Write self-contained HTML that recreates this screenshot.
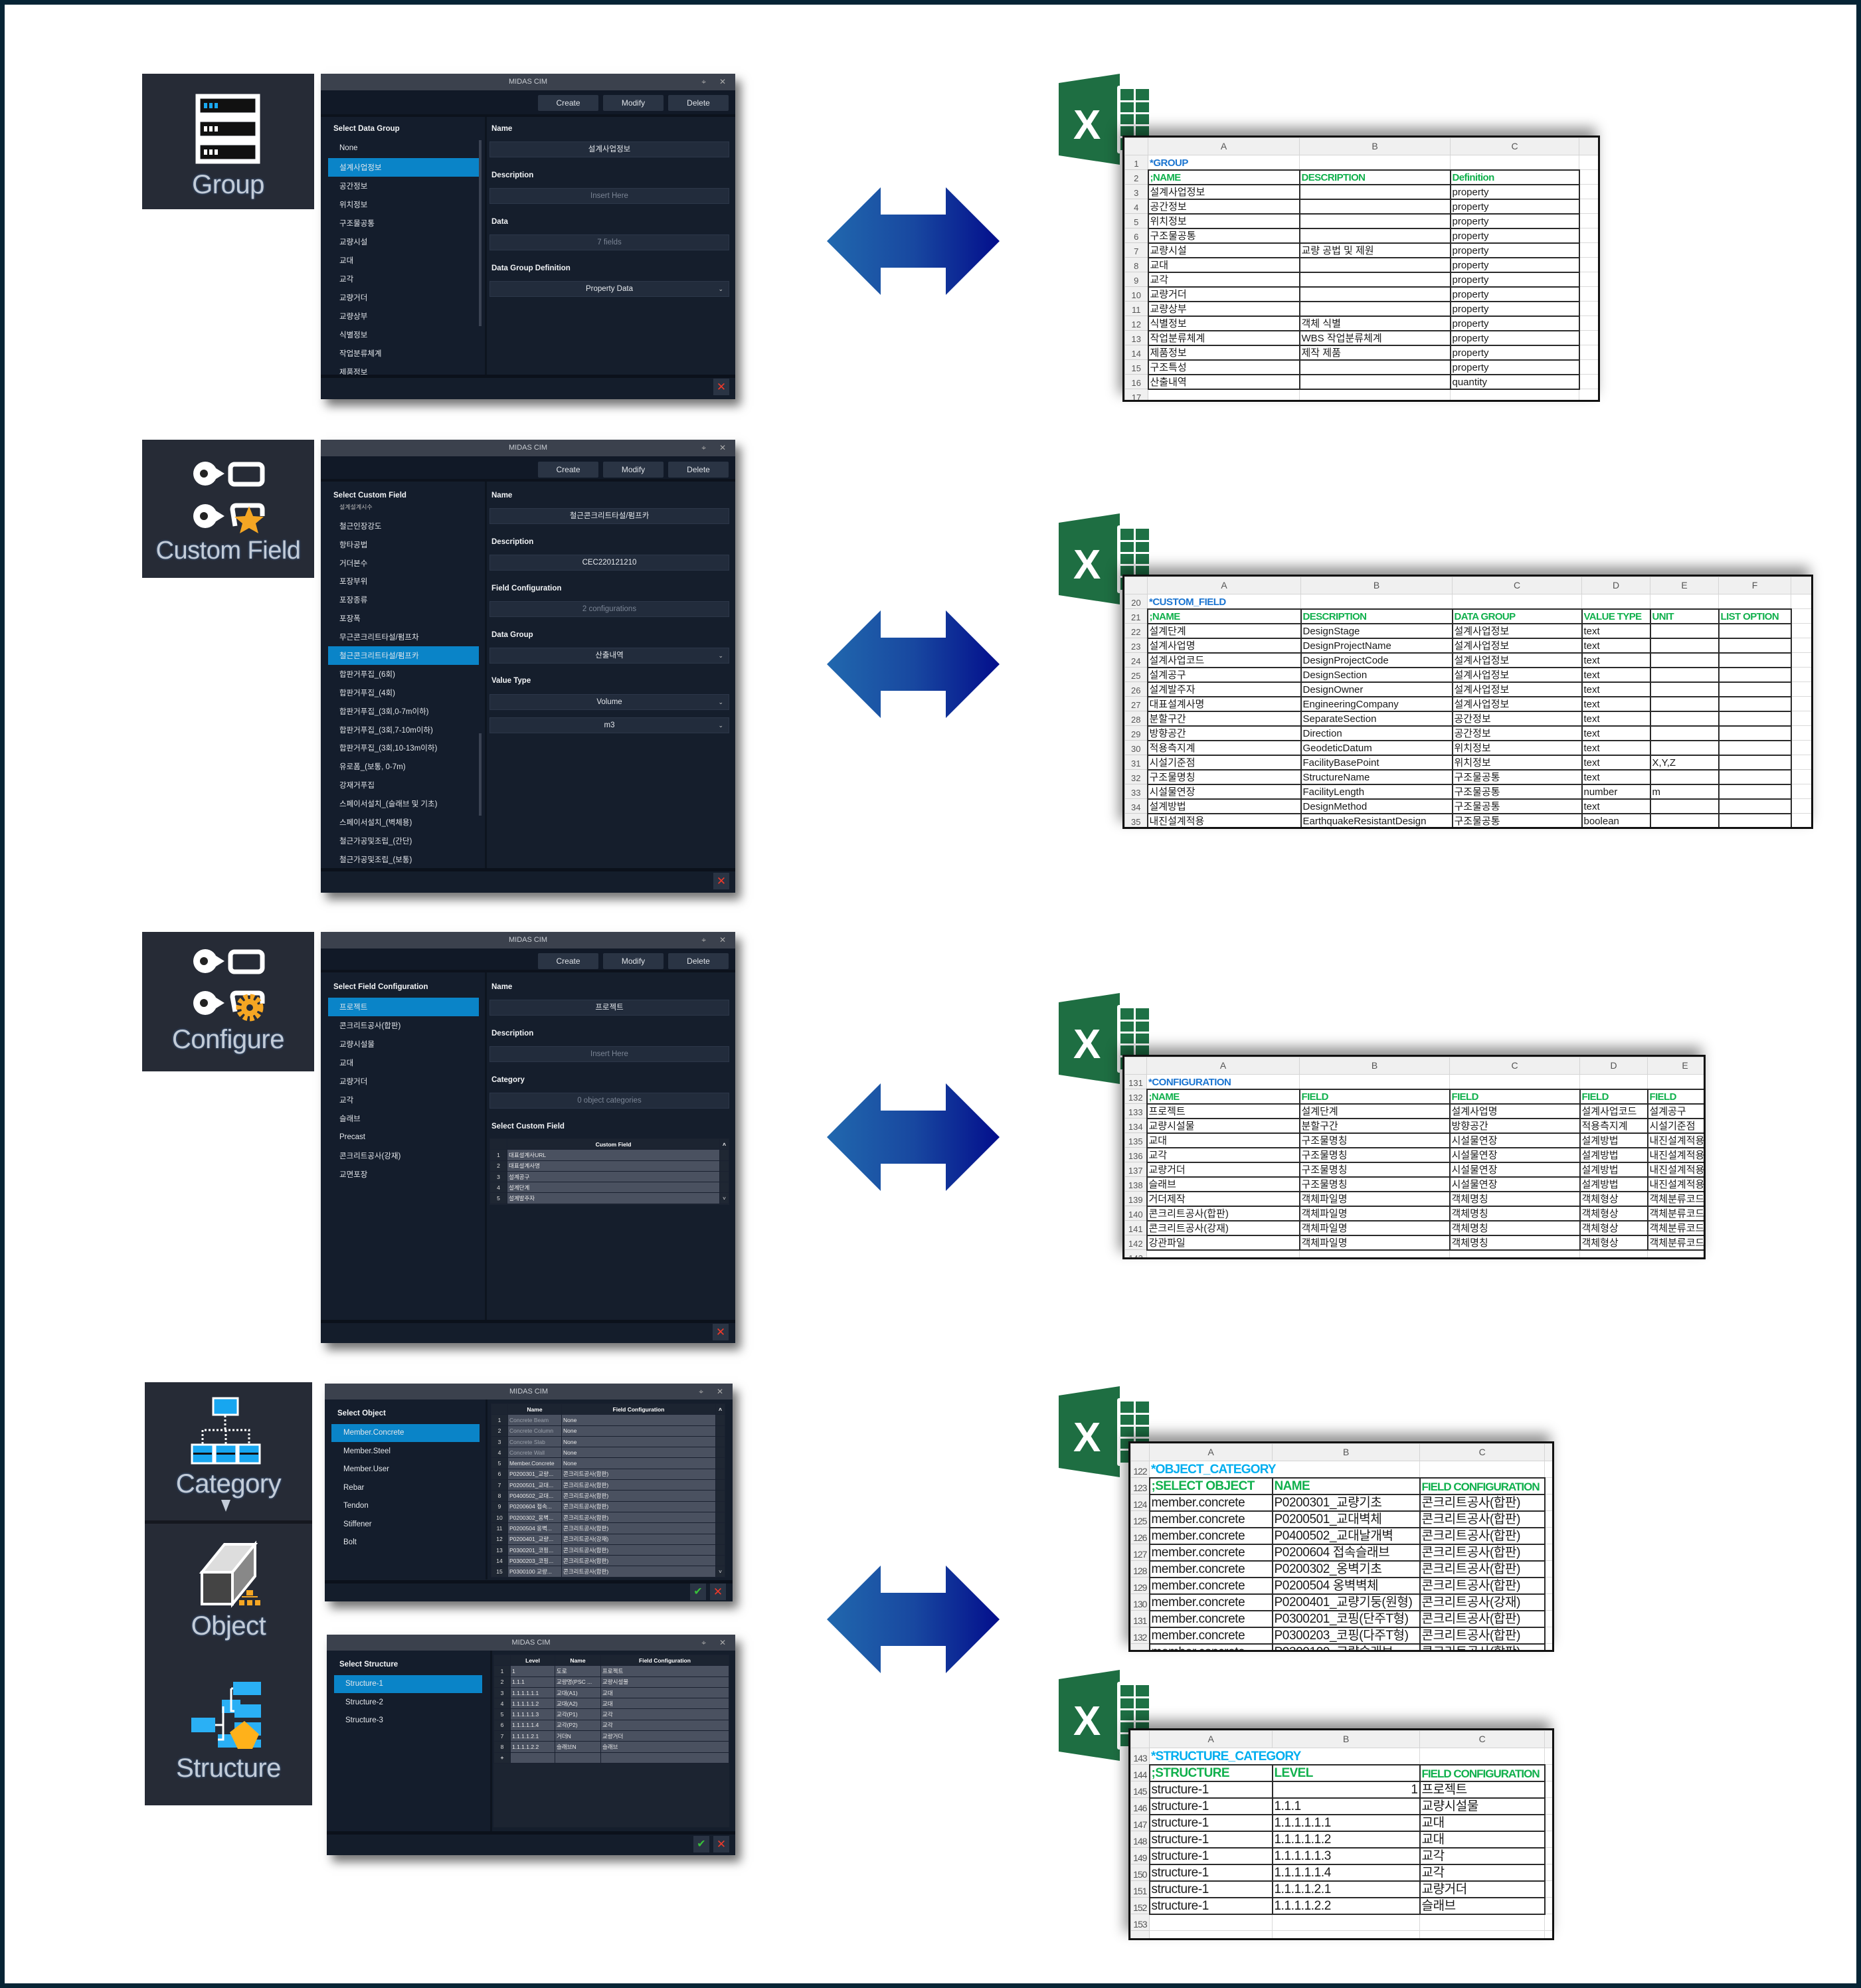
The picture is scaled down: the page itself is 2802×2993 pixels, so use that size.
<!DOCTYPE html>
<html><head><meta charset="utf-8">
<style>
*{box-sizing:border-box;margin:0;padding:0}
body{width:2802px;height:2993px;background:#fff;position:relative;overflow:hidden;font-family:"Liberation Sans","Noto Sans CJK KR",sans-serif}
#frame{position:absolute;left:0;top:0;width:2802px;height:2993px;border:7px solid #062435}
.ab{position:absolute}
.ip{position:absolute;background:#262b36}
.ip .lb{position:absolute;left:0;right:0;text-align:center;font-size:40px;color:#c3ccd8;text-shadow:0 0 3px #4a6fa0;letter-spacing:-0.5px;font-weight:500}
.dlg{position:absolute;background:#151e2c;box-shadow:8px 10px 14px rgba(0,0,0,.55);color:#e8ebef;overflow:hidden}
.dlg .tb{position:absolute;left:0;right:0;top:0;height:25px;background:#3b414d;color:#c9cdd3;font-size:11px;text-align:center;line-height:25px}
.dlg .tb i{position:absolute;font-style:normal;top:0;font-size:12px;color:#aaa}
.dlg .tool{position:absolute;left:0;right:0;top:25px;background:#111927;border-bottom:4px solid #0c121c}
.btn{position:absolute;background:#2a3444;color:#dfe3e8;font-size:12px;text-align:center;line-height:24px;height:24px;border-radius:2px}
.lp{position:absolute;left:0;background:#141d2c;border-right:3px solid #0d141f}
.lbl{position:absolute;font-size:11.5px;font-weight:bold;color:#f2f4f6;transform:translateY(-50%)}
.it{position:absolute;font-size:11.5px;color:#e4e7eb;transform:translateY(-50%);white-space:nowrap}
.sel{position:absolute;background:#0a84c8}
.inp{position:absolute;height:24px;background:#222c3c;border:1px solid #2c3749;color:#e6e9ed;font-size:11.5px;text-align:center;line-height:22px}
.inp.ph{color:#7a8494}
.inp .dd{position:absolute;right:8px;top:0;font-size:9px;color:#ccc}
.bot{position:absolute;left:0;right:0;bottom:0;background:#141d2b;border-top:5px solid #0b111b}
.xb{position:absolute;width:24px;height:25px;background:#2a3444;color:#f03a2a;font-size:17px;text-align:center;line-height:25px}
.ck{position:absolute;width:24px;height:25px;background:#2a3444;color:#38c03a;font-size:16px;text-align:center;line-height:25px}
.grid{position:absolute;background:#1c2431;font-size:8.5px;overflow:hidden}
.grid table{border-collapse:collapse;table-layout:fixed;width:100%}
.grid td{height:16.3px;border:1px solid #1a2130;white-space:nowrap;overflow:hidden;padding:0 2px;color:#e8e8e8;background:#4a5160}
.grid td.n{background:#1f2733;text-align:center;color:#ddd}
.grid tr.h td{background:#1c2431;font-weight:bold;text-align:center;color:#fff}
.grid td.dim{color:#9aa0aa}
.sh{position:absolute;background:#fff;border:3px solid #111;box-shadow:-6px -12px 18px rgba(0,0,0,.42);overflow:hidden}
.sh table{border-collapse:collapse;table-layout:fixed}
.sh td{padding:0 2px;white-space:nowrap;overflow:hidden;border:1px solid #d9d9d9;font-size:15px;color:#1a1a1a;line-height:1;vertical-align:bottom;padding-bottom:2px}
.sh td.n{background:#f0f0f0;color:#555;text-align:center;font-size:13px;border-color:#cfcfcf}
.sh tr.h td{background:#f0f0f0;color:#555;text-align:center;font-size:14px;vertical-align:middle;border-color:#d4d4d4}
.sh td.k{border:2px solid #2a2a2a}
.sh .t{color:#1a74d0;font-weight:bold;letter-spacing:-0.5px}
.sh .c{color:#00aeef;font-weight:bold;letter-spacing:-0.8px}
.sh .g{color:#10b04c;font-weight:bold;letter-spacing:-0.6px}
.big td{font-size:19px;letter-spacing:-0.4px}
.big td.n{font-size:14px;letter-spacing:-1px}
.big td.fc{font-size:17px;letter-spacing:-1px}
</style></head><body>
<div id="frame"></div>

<svg class="ab" style="left:0;top:0" width="2802" height="2993">
<defs><linearGradient id="ag" x1="0" x2="1" y1="0" y2="0"><stop offset="0" stop-color="#2168ae"/><stop offset="0.5" stop-color="#1848a0"/><stop offset="1" stop-color="#030e8c"/></linearGradient></defs>
<g fill="url(#ag)">
<polygon points="1245,363 1326,282 1326,323 1424,323 1424,282 1505,363 1424,444 1424,403 1326,403 1326,444"/>
<polygon points="1245,1000 1326,919 1326,960 1424,960 1424,919 1505,1000 1424,1081 1424,1040 1326,1040 1326,1081"/>
<polygon points="1245,1712 1326,1631 1326,1672 1424,1672 1424,1631 1505,1712 1424,1793 1424,1752 1326,1752 1326,1793"/>
<polygon points="1245,2438 1326,2357 1326,2398 1424,2398 1424,2357 1505,2438 1424,2519 1424,2478 1326,2478 1326,2519"/>
</g>
<g id="xl1" transform="translate(1594,111)">
<polygon points="0,14 92,0 92,137 0,123" fill="#1e6e42"/>
<rect x="88" y="18" width="53" height="102" rx="3" fill="#fff"/>
<rect x="93" y="23" width="43" height="92" fill="#1e7145"/>
<g fill="#fff"><rect x="93" y="40" width="43" height="3"/><rect x="93" y="58" width="43" height="3"/><rect x="93" y="76" width="43" height="3"/><rect x="93" y="94" width="43" height="3"/><rect x="113" y="23" width="3" height="92"/></g>
<text x="22" y="98" font-family="Liberation Sans" font-weight="bold" font-size="62" fill="#fff">X</text>
</g>
<use href="#xl1" transform="translate(0,662)"/>
<use href="#xl1" transform="translate(0,1384)"/>
<use href="#xl1" transform="translate(0,1976)"/>
<use href="#xl1" transform="translate(0,2403)"/>
</svg>

<!-- ============ SECTION 1 ============ -->
<div class="ip" style="left:214px;top:111px;width:259px;height:204px">
<svg class="ab" style="left:0;top:0" width="259" height="204">
<g fill="none" stroke="#fff" stroke-width="7"><rect x="84" y="34" width="90" height="28"/><rect x="84" y="69" width="90" height="28"/><rect x="84" y="104" width="90" height="28"/></g>
<g fill="#111"><rect x="88" y="38" width="82" height="20"/><rect x="88" y="73" width="82" height="20"/><rect x="88" y="108" width="82" height="20"/></g>
<g fill="#19a8f0"><rect x="93" y="44" width="5" height="8"/><rect x="101" y="44" width="5" height="8"/><rect x="109" y="44" width="5" height="8"/></g>
<g fill="#fff"><rect x="93" y="79" width="5" height="8"/><rect x="101" y="79" width="5" height="8"/><rect x="109" y="79" width="5" height="8"/><rect x="93" y="114" width="5" height="8"/><rect x="101" y="114" width="5" height="8"/><rect x="109" y="114" width="5" height="8"/></g>
</svg>
<div class="lb" style="top:145px">Group</div>
</div>

<div class="dlg" style="left:483px;top:111px;width:624px;height:490px">
<div class="tb">MIDAS CIM<i style="right:44px">⌖</i><i style="right:14px">✕</i></div>
<div class="tool" style="height:40px"></div>
<div class="btn" style="left:327px;top:32px;width:91px">Create</div>
<div class="btn" style="left:425px;top:32px;width:91px">Modify</div>
<div class="btn" style="left:523px;top:32px;width:91px">Delete</div>
<div class="lp" style="top:65px;width:250px;height:388px"></div>
<div class="ab" style="left:238px;top:100px;width:4px;height:280px;background:#3a4252"></div>
<div class="lbl" style="left:19px;top:83px">Select Data Group</div>
<div class="sel" style="left:11px;top:127px;width:227px;height:28px"></div>
<div class="it" style="left:28px;top:112px">None</div>
<div class="it" style="left:28px;top:141px">설계사업정보</div>
<div class="it" style="left:28px;top:169px">공간정보</div>
<div class="it" style="left:28px;top:197px">위치정보</div>
<div class="it" style="left:28px;top:225px">구조물공통</div>
<div class="it" style="left:28px;top:253px">교량시설</div>
<div class="it" style="left:28px;top:281px">교대</div>
<div class="it" style="left:28px;top:309px">교각</div>
<div class="it" style="left:28px;top:337px">교량거더</div>
<div class="it" style="left:28px;top:365px">교량상부</div>
<div class="it" style="left:28px;top:393px">식별정보</div>
<div class="it" style="left:28px;top:421px">작업분류체계</div>
<div class="it" style="left:28px;top:449px">제품정보</div>
<div class="lbl" style="left:257px;top:83px">Name</div>
<div class="inp" style="left:254px;top:102px;width:361px">설계사업정보</div>
<div class="lbl" style="left:257px;top:153px">Description</div>
<div class="inp ph" style="left:254px;top:172px;width:361px">Insert Here</div>
<div class="lbl" style="left:257px;top:223px">Data</div>
<div class="inp ph" style="left:254px;top:242px;width:361px">7 fields</div>
<div class="lbl" style="left:257px;top:293px">Data Group Definition</div>
<div class="inp" style="left:254px;top:312px;width:361px">Property Data<span class="dd">⌄</span></div>
<div class="bot" style="height:37px"></div>
<div class="xb" style="left:591px;top:459px">✕</div>
</div>

<div class="sh" style="left:1690px;top:204px;width:719px;height:401px">
<table style="width:713px">
<colgroup><col style="width:35px"><col style="width:228px"><col style="width:227px"><col style="width:194px"><col style="width:29px"></colgroup>
<tr class="h" style="height:26px"><td></td><td>A</td><td>B</td><td>C</td><td></td></tr>
<tr style="height:22px"><td class="n">1</td><td class="t">*GROUP</td><td></td><td></td><td></td></tr>
<tr style="height:22px"><td class="n">2</td><td class="k g">;NAME</td><td class="k g">DESCRIPTION</td><td class="k g">Definition</td><td></td></tr>
<tr style="height:22px"><td class="n">3</td><td class="k">설계사업정보</td><td class="k"></td><td class="k">property</td><td></td></tr>
<tr style="height:22px"><td class="n">4</td><td class="k">공간정보</td><td class="k"></td><td class="k">property</td><td></td></tr>
<tr style="height:22px"><td class="n">5</td><td class="k">위치정보</td><td class="k"></td><td class="k">property</td><td></td></tr>
<tr style="height:22px"><td class="n">6</td><td class="k">구조물공통</td><td class="k"></td><td class="k">property</td><td></td></tr>
<tr style="height:22px"><td class="n">7</td><td class="k">교량시설</td><td class="k">교량 공법 및 제원</td><td class="k">property</td><td></td></tr>
<tr style="height:22px"><td class="n">8</td><td class="k">교대</td><td class="k"></td><td class="k">property</td><td></td></tr>
<tr style="height:22px"><td class="n">9</td><td class="k">교각</td><td class="k"></td><td class="k">property</td><td></td></tr>
<tr style="height:22px"><td class="n">10</td><td class="k">교량거더</td><td class="k"></td><td class="k">property</td><td></td></tr>
<tr style="height:22px"><td class="n">11</td><td class="k">교량상부</td><td class="k"></td><td class="k">property</td><td></td></tr>
<tr style="height:22px"><td class="n">12</td><td class="k">식별정보</td><td class="k">객체 식별</td><td class="k">property</td><td></td></tr>
<tr style="height:22px"><td class="n">13</td><td class="k">작업분류체계</td><td class="k">WBS 작업분류체계</td><td class="k">property</td><td></td></tr>
<tr style="height:22px"><td class="n">14</td><td class="k">제품정보</td><td class="k">제작 제품</td><td class="k">property</td><td></td></tr>
<tr style="height:22px"><td class="n">15</td><td class="k">구조특성</td><td class="k"></td><td class="k">property</td><td></td></tr>
<tr style="height:22px"><td class="n">16</td><td class="k">산출내역</td><td class="k"></td><td class="k">quantity</td><td></td></tr>
<tr style="height:22px"><td class="n">17</td><td></td><td></td><td></td><td></td></tr>
</table></div>

<!-- ============ SECTION 2 ============ -->
<div class="ip" style="left:214px;top:662px;width:259px;height:208px">
<svg class="ab" style="left:0;top:0" width="259" height="208">
<g fill="#fff"><circle cx="95" cy="51" r="18"/><polygon points="95,33 124,51 95,69"/><circle cx="95" cy="115" r="18"/><polygon points="95,97 124,115 95,133"/></g>
<g fill="#222"><circle cx="93" cy="51" r="6"/><circle cx="93" cy="115" r="6"/></g>
<g fill="none" stroke="#fff" stroke-width="7"><rect x="133" y="37" width="48" height="30" rx="6"/><path d="M140 130 L136 105 Q136 99 142 99 L175 99 Q181 99 181 105 L181 115"/></g>
<polygon fill="#f5a623" points="161,100 167,115 183,116 171,126 175,141 161,133 147,141 151,126 139,116 155,115"/>
</svg>
<div class="lb" style="top:146px;font-size:38px">Custom Field</div>
</div>

<div class="dlg" style="left:483px;top:662px;width:624px;height:682px">
<div class="tb">MIDAS CIM<i style="right:44px">⌖</i><i style="right:14px">✕</i></div>
<div class="tool" style="height:38px"></div>
<div class="btn" style="left:327px;top:33px;width:91px">Create</div>
<div class="btn" style="left:425px;top:33px;width:91px">Modify</div>
<div class="btn" style="left:523px;top:33px;width:91px">Delete</div>
<div class="lp" style="top:63px;width:250px;height:582px"></div>
<div class="ab" style="left:238px;top:442px;width:4px;height:124px;background:#3a4252"></div>
<div class="lbl" style="left:19px;top:84px">Select Custom Field</div>
<div class="it" style="left:28px;top:101px;font-size:9px;color:#bbb">설계설계시수</div>
<div class="sel" style="left:11px;top:311px;width:227px;height:28px"></div>
<div class="it" style="left:28px;top:130px">철근인장강도</div>
<div class="it" style="left:28px;top:158px">항타공법</div>
<div class="it" style="left:28px;top:186px">거더본수</div>
<div class="it" style="left:28px;top:213px">포장부위</div>
<div class="it" style="left:28px;top:241px">포장종류</div>
<div class="it" style="left:28px;top:269px">포장폭</div>
<div class="it" style="left:28px;top:297px">무근콘크리트타설/펌프차</div>
<div class="it" style="left:28px;top:325px">철근콘크리트타설/펌프카</div>
<div class="it" style="left:28px;top:353px">합판거푸집_(6회)</div>
<div class="it" style="left:28px;top:381px">합판거푸집_(4회)</div>
<div class="it" style="left:28px;top:409px">합판거푸집_(3회,0-7m이하)</div>
<div class="it" style="left:28px;top:437px">합판거푸집_(3회,7-10m이하)</div>
<div class="it" style="left:28px;top:464px">합판거푸집_(3회,10-13m이하)</div>
<div class="it" style="left:28px;top:492px">유로폼_(보통, 0-7m)</div>
<div class="it" style="left:28px;top:520px">강재거푸집</div>
<div class="it" style="left:28px;top:548px">스페이서설치_(슬래브 및 기초)</div>
<div class="it" style="left:28px;top:576px">스페이서설치_(벽체용)</div>
<div class="it" style="left:28px;top:604px">철근가공및조립_(간단)</div>
<div class="it" style="left:28px;top:632px">철근가공및조립_(보통)</div>
<div class="lbl" style="left:257px;top:84px">Name</div>
<div class="inp" style="left:254px;top:103px;width:361px">철근콘크리트타설/펌프카</div>
<div class="lbl" style="left:257px;top:154px">Description</div>
<div class="inp" style="left:254px;top:173px;width:361px">CEC220121210</div>
<div class="lbl" style="left:257px;top:224px">Field Configuration</div>
<div class="inp ph" style="left:254px;top:243px;width:361px">2 configurations</div>
<div class="lbl" style="left:257px;top:294px">Data Group</div>
<div class="inp" style="left:254px;top:313px;width:361px">산출내역<span class="dd">⌄</span></div>
<div class="lbl" style="left:257px;top:363px">Value Type</div>
<div class="inp" style="left:254px;top:383px;width:361px">Volume<span class="dd">⌄</span></div>
<div class="inp" style="left:254px;top:418px;width:361px">m3<span class="dd">⌄</span></div>
<div class="bot" style="height:37px"></div>
<div class="xb" style="left:591px;top:652px">✕</div>
</div>

<div class="sh" style="left:1690px;top:865px;width:1040px;height:383px">
<table style="width:1034px">
<colgroup><col style="width:34px"><col style="width:231px"><col style="width:228px"><col style="width:195px"><col style="width:103px"><col style="width:103px"><col style="width:109px"><col style="width:31px"></colgroup>
<tr class="h" style="height:26px"><td></td><td>A</td><td>B</td><td>C</td><td>D</td><td>E</td><td>F</td><td></td></tr>
<tr style="height:22px"><td class="n">20</td><td class="t">*CUSTOM_FIELD</td><td></td><td></td><td></td><td></td><td></td><td></td></tr>
<tr style="height:22px"><td class="n">21</td><td class="k g">;NAME</td><td class="k g">DESCRIPTION</td><td class="k g">DATA GROUP</td><td class="k g">VALUE TYPE</td><td class="k g">UNIT</td><td class="k g">LIST OPTION</td><td></td></tr>
<tr style="height:22px"><td class="n">22</td><td class="k">설계단계</td><td class="k">DesignStage</td><td class="k">설계사업정보</td><td class="k">text</td><td class="k"></td><td class="k"></td><td></td></tr>
<tr style="height:22px"><td class="n">23</td><td class="k">설계사업명</td><td class="k">DesignProjectName</td><td class="k">설계사업정보</td><td class="k">text</td><td class="k"></td><td class="k"></td><td></td></tr>
<tr style="height:22px"><td class="n">24</td><td class="k">설계사업코드</td><td class="k">DesignProjectCode</td><td class="k">설계사업정보</td><td class="k">text</td><td class="k"></td><td class="k"></td><td></td></tr>
<tr style="height:22px"><td class="n">25</td><td class="k">설계공구</td><td class="k">DesignSection</td><td class="k">설계사업정보</td><td class="k">text</td><td class="k"></td><td class="k"></td><td></td></tr>
<tr style="height:22px"><td class="n">26</td><td class="k">설계발주자</td><td class="k">DesignOwner</td><td class="k">설계사업정보</td><td class="k">text</td><td class="k"></td><td class="k"></td><td></td></tr>
<tr style="height:22px"><td class="n">27</td><td class="k">대표설계사명</td><td class="k">EngineeringCompany</td><td class="k">설계사업정보</td><td class="k">text</td><td class="k"></td><td class="k"></td><td></td></tr>
<tr style="height:22px"><td class="n">28</td><td class="k">분할구간</td><td class="k">SeparateSection</td><td class="k">공간정보</td><td class="k">text</td><td class="k"></td><td class="k"></td><td></td></tr>
<tr style="height:22px"><td class="n">29</td><td class="k">방향공간</td><td class="k">Direction</td><td class="k">공간정보</td><td class="k">text</td><td class="k"></td><td class="k"></td><td></td></tr>
<tr style="height:22px"><td class="n">30</td><td class="k">적용측지계</td><td class="k">GeodeticDatum</td><td class="k">위치정보</td><td class="k">text</td><td class="k"></td><td class="k"></td><td></td></tr>
<tr style="height:22px"><td class="n">31</td><td class="k">시설기준점</td><td class="k">FacilityBasePoint</td><td class="k">위치정보</td><td class="k">text</td><td class="k">X,Y,Z</td><td class="k"></td><td></td></tr>
<tr style="height:22px"><td class="n">32</td><td class="k">구조물명칭</td><td class="k">StructureName</td><td class="k">구조물공통</td><td class="k">text</td><td class="k"></td><td class="k"></td><td></td></tr>
<tr style="height:22px"><td class="n">33</td><td class="k">시설물연장</td><td class="k">FacilityLength</td><td class="k">구조물공통</td><td class="k">number</td><td class="k">m</td><td class="k"></td><td></td></tr>
<tr style="height:22px"><td class="n">34</td><td class="k">설계방법</td><td class="k">DesignMethod</td><td class="k">구조물공통</td><td class="k">text</td><td class="k"></td><td class="k"></td><td></td></tr>
<tr style="height:22px"><td class="n">35</td><td class="k">내진설계적용</td><td class="k">EarthquakeResistantDesign</td><td class="k">구조물공통</td><td class="k">boolean</td><td class="k"></td><td class="k"></td><td></td></tr>
</table></div>

<!-- ============ SECTION 3 ============ -->
<div class="ip" style="left:214px;top:1403px;width:259px;height:210px">
<svg class="ab" style="left:0;top:0" width="259" height="210">
<g fill="#fff"><circle cx="95" cy="44" r="18"/><polygon points="95,26 124,44 95,62"/><circle cx="95" cy="107" r="18"/><polygon points="95,89 124,107 95,125"/></g>
<g fill="#222"><circle cx="93" cy="44" r="6"/><circle cx="93" cy="107" r="6"/></g>
<g fill="none" stroke="#fff" stroke-width="7"><rect x="133" y="30" width="48" height="30" rx="6"/><path d="M140 120 L136 98 Q136 92 142 92 L175 92 Q181 92 181 98 L181 108"/></g>
<circle cx="162" cy="114" r="16" fill="none" stroke="#f5a623" stroke-width="9" stroke-dasharray="6 3.5"/>
<circle cx="162" cy="114" r="13" fill="#f5a623"/><circle cx="162" cy="114" r="5" fill="#262b36"/>
</svg>
<div class="lb" style="top:140px">Configure</div>
</div>

<div class="dlg" style="left:483px;top:1403px;width:624px;height:619px">
<div class="tb">MIDAS CIM<i style="right:44px">⌖</i><i style="right:14px">✕</i></div>
<div class="tool" style="height:36px"></div>
<div class="btn" style="left:327px;top:32px;width:91px">Create</div>
<div class="btn" style="left:425px;top:32px;width:91px">Modify</div>
<div class="btn" style="left:523px;top:32px;width:91px">Delete</div>
<div class="lp" style="top:61px;width:250px;height:523px"></div>
<div class="lbl" style="left:19px;top:83px">Select Field Configuration</div>
<div class="sel" style="left:11px;top:99px;width:227px;height:28px"></div>
<div class="it" style="left:28px;top:113px">프로젝트</div>
<div class="it" style="left:28px;top:141px">콘크리트공사(합판)</div>
<div class="it" style="left:28px;top:169px">교량시설물</div>
<div class="it" style="left:28px;top:197px">교대</div>
<div class="it" style="left:28px;top:225px">교량거더</div>
<div class="it" style="left:28px;top:253px">교각</div>
<div class="it" style="left:28px;top:281px">슬래브</div>
<div class="it" style="left:28px;top:309px">Precast</div>
<div class="it" style="left:28px;top:337px">콘크리트공사(강재)</div>
<div class="it" style="left:28px;top:365px">교면포장</div>
<div class="lbl" style="left:257px;top:83px">Name</div>
<div class="inp" style="left:254px;top:102px;width:361px">프로젝트</div>
<div class="lbl" style="left:257px;top:153px">Description</div>
<div class="inp ph" style="left:254px;top:172px;width:361px">Insert Here</div>
<div class="lbl" style="left:257px;top:223px">Category</div>
<div class="inp ph" style="left:254px;top:242px;width:361px">0 object categories</div>
<div class="lbl" style="left:257px;top:293px">Select Custom Field</div>
<div class="grid" style="left:254px;top:311px;width:361px;height:100px">
<table><colgroup><col style="width:26px"><col><col style="width:14px"></colgroup>
<tr class="h"><td></td><td>Custom Field</td><td>˄</td></tr>
<tr><td class="n">1</td><td>대표설계사URL</td><td class="n"></td></tr>
<tr><td class="n">2</td><td>대표설계사명</td><td class="n"></td></tr>
<tr><td class="n">3</td><td>설계공구</td><td class="n"></td></tr>
<tr><td class="n">4</td><td>설계단계</td><td class="n"></td></tr>
<tr><td class="n">5</td><td>설계발주자</td><td class="n">˅</td></tr>
</table></div>
<div class="bot" style="height:35px"></div>
<div class="xb" style="left:590px;top:590px">✕</div>
</div>

<div class="sh" style="left:1690px;top:1588px;width:878px;height:308px">
<table style="width:900px">
<colgroup><col style="width:33px"><col style="width:230px"><col style="width:226px"><col style="width:196px"><col style="width:102px"><col style="width:113px"></colgroup>
<tr class="h" style="height:26px"><td></td><td>A</td><td>B</td><td>C</td><td>D</td><td>E</td></tr>
<tr style="height:22px"><td class="n">131</td><td class="t">*CONFIGURATION</td><td></td><td></td><td></td><td></td></tr>
<tr style="height:22px"><td class="n">132</td><td class="k g">;NAME</td><td class="k g">FIELD</td><td class="k g">FIELD</td><td class="k g">FIELD</td><td class="k g">FIELD</td></tr>
<tr style="height:22px"><td class="n">133</td><td class="k">프로젝트</td><td class="k">설계단계</td><td class="k">설계사업명</td><td class="k">설계사업코드</td><td class="k">설계공구</td></tr>
<tr style="height:22px"><td class="n">134</td><td class="k">교량시설물</td><td class="k">분할구간</td><td class="k">방향공간</td><td class="k">적용측지계</td><td class="k">시설기준점</td></tr>
<tr style="height:22px"><td class="n">135</td><td class="k">교대</td><td class="k">구조물명칭</td><td class="k">시설물연장</td><td class="k">설계방법</td><td class="k">내진설계적용</td></tr>
<tr style="height:22px"><td class="n">136</td><td class="k">교각</td><td class="k">구조물명칭</td><td class="k">시설물연장</td><td class="k">설계방법</td><td class="k">내진설계적용</td></tr>
<tr style="height:22px"><td class="n">137</td><td class="k">교량거더</td><td class="k">구조물명칭</td><td class="k">시설물연장</td><td class="k">설계방법</td><td class="k">내진설계적용</td></tr>
<tr style="height:22px"><td class="n">138</td><td class="k">슬래브</td><td class="k">구조물명칭</td><td class="k">시설물연장</td><td class="k">설계방법</td><td class="k">내진설계적용</td></tr>
<tr style="height:22px"><td class="n">139</td><td class="k">거더제작</td><td class="k">객체파일명</td><td class="k">객체명칭</td><td class="k">객체형상</td><td class="k">객체분류코드</td></tr>
<tr style="height:22px"><td class="n">140</td><td class="k">콘크리트공사(합판)</td><td class="k">객체파일명</td><td class="k">객체명칭</td><td class="k">객체형상</td><td class="k">객체분류코드</td></tr>
<tr style="height:22px"><td class="n">141</td><td class="k">콘크리트공사(강재)</td><td class="k">객체파일명</td><td class="k">객체명칭</td><td class="k">객체형상</td><td class="k">객체분류코드</td></tr>
<tr style="height:22px"><td class="n">142</td><td class="k">강관파일</td><td class="k">객체파일명</td><td class="k">객체명칭</td><td class="k">객체형상</td><td class="k">객체분류코드</td></tr>
<tr style="height:22px"><td class="n">143</td><td></td><td></td><td></td><td></td><td></td></tr>
</table></div>

<!-- ============ SECTION 4 ============ -->
<div class="ip" style="left:218px;top:2081px;width:252px;height:637px">
<div class="ab" style="left:0;top:208px;width:252px;height:5px;background:#15181f"></div>
<svg class="ab" style="left:0;top:0" width="252" height="637">
<rect x="103" y="24" width="37" height="25" fill="#17a6f0" stroke="#fff" stroke-width="3"/>
<g stroke="#fff" stroke-width="3" stroke-dasharray="3 3" fill="none"><path d="M121 50 V72 M87 93 V72 H157 V93 M122 72 V93"/></g>
<g fill="#17a6f0" stroke="#fff" stroke-width="3"><rect x="71" y="94" width="32" height="28"/><rect x="106" y="94" width="32" height="28"/><rect x="141" y="94" width="32" height="28"/></g>
<g fill="#111"><rect x="73" y="106" width="28" height="3"/><rect x="108" y="106" width="28" height="3"/><rect x="143" y="106" width="28" height="3"/></g>
<polygon points="115,177 129,177 122,195" fill="#c3ccd8"/>
<polygon points="86,286 120,244 166,244 132,286" fill="#ddd" stroke="#fff" stroke-width="4"/>
<polygon points="132,286 166,244 166,292 132,334" fill="#888" stroke="#fff" stroke-width="4"/>
<rect x="86" y="286" width="46" height="48" fill="#444" stroke="#fff" stroke-width="4"/>
<g fill="#f5a623"><rect x="153" y="313" width="10" height="8"/><rect x="142" y="328" width="8" height="8"/><rect x="154" y="328" width="8" height="8"/><rect x="166" y="328" width="8" height="8"/><rect x="146" y="322" width="24" height="2"/></g>
<g fill="#2ab0f5"><rect x="133" y="451" width="42" height="20"/><rect x="116" y="478" width="28" height="20"/><rect x="135" y="485" width="40" height="20"/><rect x="70" y="505" width="36" height="22"/><rect x="135" y="512" width="40" height="20"/><rect x="110" y="530" width="40" height="20"/><rect x="135" y="538" width="40" height="12"/></g>
<g stroke="#fff" stroke-width="3" fill="none"><path d="M106 516 H118 V488 M118 516 V538 H110 M130 461 H133 M130 461 V495 H135"/></g>
<polygon points="128,527 150,510 172,530 162,552 140,552" fill="#ffb11a"/>
</svg>
<div class="lb" style="top:131px">Category</div>
<div class="lb" style="top:345px">Object</div>
<div class="lb" style="top:559px">Structure</div>
</div>

<div class="dlg" style="left:489px;top:2083px;width:614px;height:328px">
<div class="tb" style="height:24px;line-height:24px">MIDAS CIM<i style="right:44px">⌖</i><i style="right:14px">✕</i></div>
<div class="lp" style="top:24px;width:245px;height:271px"></div>
<div class="lbl" style="left:19px;top:45px">Select Object</div>
<div class="sel" style="left:10px;top:61px;width:223px;height:27px"></div>
<div class="it" style="left:28px;top:74px">Member.Concrete</div>
<div class="it" style="left:28px;top:102px">Member.Steel</div>
<div class="it" style="left:28px;top:129px">Member.User</div>
<div class="it" style="left:28px;top:157px">Rebar</div>
<div class="it" style="left:28px;top:184px">Tendon</div>
<div class="it" style="left:28px;top:212px">Stiffener</div>
<div class="it" style="left:28px;top:239px">Bolt</div>
<div class="grid" style="left:250px;top:30px;width:353px;height:262px">
<table><colgroup><col style="width:25px"><col style="width:81px"><col><col style="width:14px"></colgroup>
<tr class="h"><td></td><td>Name</td><td>Field Configuration</td><td>˄</td></tr>
<tr><td class="n">1</td><td class="dim">Concrete Beam</td><td>None</td><td class="n"></td></tr>
<tr><td class="n">2</td><td class="dim">Concrete Column</td><td>None</td><td class="n"></td></tr>
<tr><td class="n">3</td><td class="dim">Concrete Slab</td><td>None</td><td class="n"></td></tr>
<tr><td class="n">4</td><td class="dim">Concrete Wall</td><td>None</td><td class="n"></td></tr>
<tr><td class="n">5</td><td>Member.Concrete</td><td>None</td><td class="n"></td></tr>
<tr><td class="n">6</td><td>P0200301_교량...</td><td>콘크리트공사(합판)</td><td class="n"></td></tr>
<tr><td class="n">7</td><td>P0200501_교대...</td><td>콘크리트공사(합판)</td><td class="n"></td></tr>
<tr><td class="n">8</td><td>P0400502_교대...</td><td>콘크리트공사(합판)</td><td class="n"></td></tr>
<tr><td class="n">9</td><td>P0200604 접속...</td><td>콘크리트공사(합판)</td><td class="n"></td></tr>
<tr><td class="n">10</td><td>P0200302_옹벽...</td><td>콘크리트공사(합판)</td><td class="n"></td></tr>
<tr><td class="n">11</td><td>P0200504 옹벽...</td><td>콘크리트공사(합판)</td><td class="n"></td></tr>
<tr><td class="n">12</td><td>P0200401_교량...</td><td>콘크리트공사(강재)</td><td class="n"></td></tr>
<tr><td class="n">13</td><td>P0300201_코핑...</td><td>콘크리트공사(합판)</td><td class="n"></td></tr>
<tr><td class="n">14</td><td>P0300203_코핑...</td><td>콘크리트공사(합판)</td><td class="n"></td></tr>
<tr><td class="n">15</td><td>P0300100 교량...</td><td>콘크리트공사(합판)</td><td class="n">˅</td></tr>
</table></div>
<div class="bot" style="height:32px"></div>
<div class="ck" style="left:550px;top:301px">✔</div>
<div class="xb" style="left:580px;top:301px">✕</div>
</div>

<div class="dlg" style="left:492px;top:2461px;width:615px;height:332px">
<div class="tb" style="height:24px;line-height:24px">MIDAS CIM<i style="right:44px">⌖</i><i style="right:14px">✕</i></div>
<div class="lp" style="top:24px;width:249px;height:272px"></div>
<div class="lbl" style="left:19px;top:45px">Select Structure</div>
<div class="sel" style="left:11px;top:61px;width:223px;height:27px"></div>
<div class="it" style="left:28px;top:74px">Structure-1</div>
<div class="it" style="left:28px;top:102px">Structure-2</div>
<div class="it" style="left:28px;top:129px">Structure-3</div>
<div class="grid" style="left:251px;top:30px;width:355px;height:260px">
<table><colgroup><col style="width:25px"><col style="width:67px"><col style="width:69px"><col></colgroup>
<tr class="h"><td></td><td>Level</td><td>Name</td><td>Field Configuration</td></tr>
<tr><td class="n">1</td><td>1</td><td>도로</td><td>프로젝트</td></tr>
<tr><td class="n">2</td><td>1.1.1</td><td>교량명(PSC ...</td><td>교량시설물</td></tr>
<tr><td class="n">3</td><td>1.1.1.1.1.1</td><td>교대(A1)</td><td>교대</td></tr>
<tr><td class="n">4</td><td>1.1.1.1.1.2</td><td>교대(A2)</td><td>교대</td></tr>
<tr><td class="n">5</td><td>1.1.1.1.1.3</td><td>교각(P1)</td><td>교각</td></tr>
<tr><td class="n">6</td><td>1.1.1.1.1.4</td><td>교각(P2)</td><td>교각</td></tr>
<tr><td class="n">7</td><td>1.1.1.1.2.1</td><td>거더N</td><td>교량거더</td></tr>
<tr><td class="n">8</td><td>1.1.1.1.2.2</td><td>슬래브N</td><td>슬래브</td></tr>
<tr><td class="n" style="font-weight:bold">+</td><td></td><td></td><td></td></tr>
</table></div>
<div class="bot" style="height:36px"></div>
<div class="ck" style="left:552px;top:303px">✔</div>
<div class="xb" style="left:582px;top:303px">✕</div>
</div>

<div class="sh big" style="left:1699px;top:2170px;width:641px;height:317px">
<table style="width:635px">
<colgroup><col style="width:28px"><col style="width:185px"><col style="width:222px"><col style="width:188px"><col style="width:12px"></colgroup>
<tr class="h" style="height:26px"><td></td><td>A</td><td>B</td><td>C</td><td></td></tr>
<tr style="height:25px"><td class="n">122</td><td class="c" colspan="2">*OBJECT_CATEGORY</td><td></td><td></td></tr>
<tr style="height:25px"><td class="n">123</td><td class="k g">;SELECT OBJECT</td><td class="k g">NAME</td><td class="k g fc">FIELD CONFIGURATION</td><td></td></tr>
<tr style="height:25px"><td class="n">124</td><td class="k">member.concrete</td><td class="k">P0200301_교량기초</td><td class="k">콘크리트공사(합판)</td><td></td></tr>
<tr style="height:25px"><td class="n">125</td><td class="k">member.concrete</td><td class="k">P0200501_교대벽체</td><td class="k">콘크리트공사(합판)</td><td></td></tr>
<tr style="height:25px"><td class="n">126</td><td class="k">member.concrete</td><td class="k">P0400502_교대날개벽</td><td class="k">콘크리트공사(합판)</td><td></td></tr>
<tr style="height:25px"><td class="n">127</td><td class="k">member.concrete</td><td class="k">P0200604 접속슬래브</td><td class="k">콘크리트공사(합판)</td><td></td></tr>
<tr style="height:25px"><td class="n">128</td><td class="k">member.concrete</td><td class="k">P0200302_옹벽기초</td><td class="k">콘크리트공사(합판)</td><td></td></tr>
<tr style="height:25px"><td class="n">129</td><td class="k">member.concrete</td><td class="k">P0200504 옹벽벽체</td><td class="k">콘크리트공사(합판)</td><td></td></tr>
<tr style="height:25px"><td class="n">130</td><td class="k">member.concrete</td><td class="k">P0200401_교량기둥(원형)</td><td class="k">콘크리트공사(강재)</td><td></td></tr>
<tr style="height:25px"><td class="n">131</td><td class="k">member.concrete</td><td class="k">P0300201_코핑(단주T형)</td><td class="k">콘크리트공사(합판)</td><td></td></tr>
<tr style="height:25px"><td class="n">132</td><td class="k">member.concrete</td><td class="k">P0300203_코핑(다주T형)</td><td class="k">콘크리트공사(합판)</td><td></td></tr>
<tr style="height:25px"><td class="n">133</td><td class="k">member.concrete</td><td class="k">P0300100_교량슬래브</td><td class="k">콘크리트공사(합판)</td><td></td></tr>
</table></div>

<div class="sh big" style="left:1699px;top:2602px;width:641px;height:319px">
<table style="width:635px">
<colgroup><col style="width:28px"><col style="width:185px"><col style="width:222px"><col style="width:188px"><col style="width:12px"></colgroup>
<tr class="h" style="height:26px"><td></td><td>A</td><td>B</td><td>C</td><td></td></tr>
<tr style="height:25px"><td class="n">143</td><td class="c" colspan="2">*STRUCTURE_CATEGORY</td><td></td><td></td></tr>
<tr style="height:25px"><td class="n">144</td><td class="k g">;STRUCTURE</td><td class="k g">LEVEL</td><td class="k g fc">FIELD CONFIGURATION</td><td></td></tr>
<tr style="height:25px"><td class="n">145</td><td class="k">structure-1</td><td class="k" style="text-align:right">1</td><td class="k">프로젝트</td><td></td></tr>
<tr style="height:25px"><td class="n">146</td><td class="k">structure-1</td><td class="k">1.1.1</td><td class="k">교량시설물</td><td></td></tr>
<tr style="height:25px"><td class="n">147</td><td class="k">structure-1</td><td class="k">1.1.1.1.1.1</td><td class="k">교대</td><td></td></tr>
<tr style="height:25px"><td class="n">148</td><td class="k">structure-1</td><td class="k">1.1.1.1.1.2</td><td class="k">교대</td><td></td></tr>
<tr style="height:25px"><td class="n">149</td><td class="k">structure-1</td><td class="k">1.1.1.1.1.3</td><td class="k">교각</td><td></td></tr>
<tr style="height:25px"><td class="n">150</td><td class="k">structure-1</td><td class="k">1.1.1.1.1.4</td><td class="k">교각</td><td></td></tr>
<tr style="height:25px"><td class="n">151</td><td class="k">structure-1</td><td class="k">1.1.1.1.2.1</td><td class="k">교량거더</td><td></td></tr>
<tr style="height:25px"><td class="n">152</td><td class="k">structure-1</td><td class="k">1.1.1.1.2.2</td><td class="k">슬래브</td><td></td></tr>
<tr style="height:25px"><td class="n">153</td><td></td><td></td><td></td><td></td></tr>
<tr style="height:25px"><td class="n"></td><td></td><td></td><td></td><td></td></tr>
</table></div>

</body></html>
